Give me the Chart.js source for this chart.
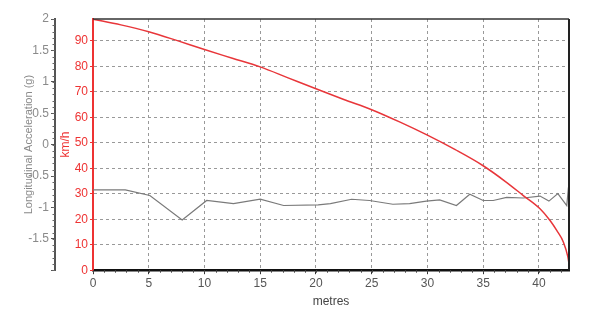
<!DOCTYPE html>
<html>
<head>
<meta charset="utf-8">
<script src="https://cdn.jsdelivr.net/npm/chart.js@4/dist/chart.umd.min.js"></script>
<style>
html,body{margin:0;padding:0;background:#fff;}
#wrap{width:600px;height:316px;}
</style>
</head>
<body>
<div id="wrap"><canvas id="c" width="600" height="316"></canvas></div>
<script>
// Speed trace (km/h) versus distance (metres)
const speedDistance = [0, 2.5, 5, 7.5, 10, 12.5, 15, 17.5, 20, 22.5, 25, 27.5, 30, 32.5, 35, 37, 38.6, 40.1, 41, 41.6, 42.2, 42.6, 42.7];
const speedKmh      = [98.5, 96.3, 93.6, 90.2, 86.6, 83.2, 79.8, 75.5, 71.2, 67.0, 63.0, 58.2, 53.0, 47.3, 41.0, 34.8, 29.3, 24.1, 19.5, 15.6, 11, 5.2, 2.5];

// Longitudinal acceleration (g) versus distance (metres)
const accelDistance = [0, 2.9, 5.1, 8.0, 10.2, 12.6, 15.0, 17.1, 20.2, 21.3, 23.2, 24.8, 26.9, 28.4, 29.9, 31.1, 32.6, 33.8, 35.0, 35.9, 37.1, 38.6, 40.1, 40.9, 41.7, 42.5, 42.65];
const accelG        = [-0.72, -0.72, -0.81, -1.20, -0.89, -0.94, -0.87, -0.97, -0.96, -0.94, -0.87, -0.89, -0.95, -0.94, -0.90, -0.88, -0.97, -0.79, -0.89, -0.89, -0.84, -0.85, -0.82, -0.90, -0.78, -0.97, -0.68];

// Axis ranges / tick labels
const xRange = {min: 0, max: 42.7, step: 5};
const gRange = {min: -2, max: 2, step: 0.5};
const kmhRange = {min: 0, max: 98.6, step: 10};
const xTitle = 'metres';
const gTitle = 'Longitudinal Acceleration (g)';
const kmhTitle = 'km/h';

const FONT = "'Liberation Sans', Arial, sans-serif";

const frame = {
  id: 'frame',
  afterDatasetsDraw(chart) {
    const {ctx, chartArea: a} = chart;
    ctx.save();
    ctx.strokeStyle = '#333';
    ctx.lineWidth = 1.5;
    ctx.beginPath();
    ctx.moveTo(a.left, a.top);
    ctx.lineTo(a.right, a.top);
    ctx.stroke();
    ctx.lineWidth = 2;
    ctx.strokeStyle = '#222';
    ctx.beginPath();
    ctx.moveTo(a.right, a.top);
    ctx.lineTo(a.right, a.bottom);
    ctx.stroke();
    // minor ticks
    const xs = chart.scales.x, gs = chart.scales.g;
    ctx.lineWidth = 1;
    ctx.strokeStyle = '#444';
    for (let v = xRange.min; v <= xRange.max; v += 1) {
      const px = Math.round(xs.getPixelForValue(v)) + 0.5;
      ctx.beginPath(); ctx.moveTo(px, a.bottom); ctx.lineTo(px, a.bottom + 2.5); ctx.stroke();
    }
    ctx.strokeStyle = '#666';
    for (let i = 0; i <= 40; i++) {
      const v = gRange.min + i * 0.1;
      const py = Math.round(gs.getPixelForValue(v)) + 0.5;
      ctx.beginPath(); ctx.moveTo(gs.right - 2.5, py); ctx.lineTo(gs.right, py); ctx.stroke();
    }
    ctx.restore();
  }
};

new Chart(document.getElementById('c'), {
  type: 'line',
  data: {
    datasets: [
      {
        label: 'Speed',
        data: speedDistance.map((d, i) => ({x: d, y: speedKmh[i]})),
        yAxisID: 'kmh',
        borderColor: '#e8363a',
        borderWidth: 1.5,
        pointRadius: 0,
        cubicInterpolationMode: 'monotone',
        fill: false
      },
      {
        label: 'Longitudinal Acceleration',
        data: accelDistance.map((d, i) => ({x: d, y: accelG[i]})),
        yAxisID: 'g',
        borderColor: '#7a7a7a',
        borderWidth: 1.2,
        pointRadius: 0,
        tension: 0,
        fill: false
      }
    ]
  },
  options: {
    responsive: false,
    animation: false,
    events: [],
    layout: {padding: {left: 18, top: 19, right: 31, bottom: 7}},
    plugins: {legend: {display: false}, tooltip: {enabled: false}},
    scales: {
      x: {
        type: 'linear',
        min: xRange.min, max: xRange.max,
        ticks: {stepSize: xRange.step, includeBounds: false, color: '#555', font: {family: FONT, size: 12}, padding: 2, maxRotation: 0},
        grid: {color: '#999', lineWidth: 1, tickColor: '#333', tickLength: 4},
        border: {color: '#111', width: 2.5, dash: [3, 3]},
        title: {display: true, text: xTitle, color: '#444', font: {family: FONT, size: 12}, padding: {top: 2, bottom: 0}}
      },
      g: {
        type: 'linear',
        position: 'left',
        weight: 1,
        min: gRange.min, max: gRange.max,
        ticks: {stepSize: gRange.step, color: '#8a8a8a', font: {family: FONT, size: 12}, padding: 2,
          callback: (v) => v === gRange.min ? '' : String(v)},
        grid: {drawOnChartArea: false, tickColor: '#555', tickLength: 4},
        border: {color: '#555', width: 2},
        title: {display: true, text: gTitle, color: '#8a8a8a', font: {family: FONT, size: 11}, padding: {top: 4, bottom: 4}},
        afterFit(s) { s.width = 37; }
      },
      kmh: {
        type: 'linear',
        position: 'left',
        weight: 0,
        min: kmhRange.min, max: kmhRange.max,
        ticks: {stepSize: kmhRange.step, includeBounds: false, color: '#ee3333', font: {family: FONT, size: 12}, padding: 2},
        grid: {color: '#999', lineWidth: 1, tickColor: '#ee3333', tickLength: 3},
        border: {color: '#ee3333', width: 2, dash: [3, 3]},
        title: {display: true, text: kmhTitle, color: '#ee3333', font: {family: FONT, size: 12}, padding: {top: 3, bottom: 4}},
        afterFit(s) { s.width = 38; }
      }
    }
  },
  plugins: [frame]
});
</script>
</body>
</html>
